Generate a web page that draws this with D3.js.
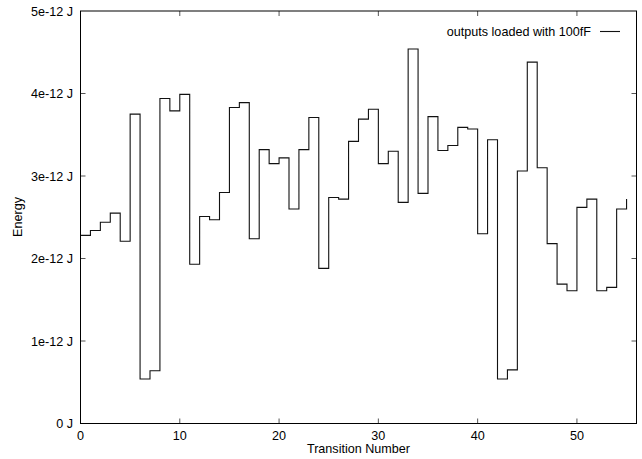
<!DOCTYPE html>
<html>
<head>
<meta charset="utf-8">
<script src="https://cdn.jsdelivr.net/npm/d3@7/dist/d3.min.js"></script>
<style>
  html, body { margin: 0; padding: 0; background: #fff; }
  svg text { font-family: "Liberation Sans", Arial, Helvetica, sans-serif; font-size: 12.6px; fill: #000; }
</style>
</head>
<body>
<svg id="chart" width="642" height="459"></svg>
<script>
// Energy per transition (in units of 1e-12 J), transitions 0..55
const transitions = d3.range(0, 56);
const energy = [
  2.28, 2.34, 2.44, 2.55, 2.21, 3.75, 0.54, 0.64, 3.94, 3.79,
  3.99, 1.93, 2.51, 2.47, 2.80, 3.83, 3.89, 2.24, 3.32, 3.15,
  3.22, 2.60, 3.32, 3.71, 1.88, 2.74, 2.72, 3.42, 3.69, 3.81,
  3.15, 3.30, 2.68, 4.54, 2.79, 3.72, 3.31, 3.37, 3.59, 3.57,
  2.30, 3.44, 0.54, 0.65, 3.06, 4.38, 3.10, 2.18, 1.69, 1.61,
  2.62, 2.72, 1.61, 1.65, 2.60, 2.72
];
const xTicks = [0, 10, 20, 30, 40, 50];
const yTicks = [0, 1, 2, 3, 4, 5];
const yTickLabels = ["0 J", "1e-12 J", "2e-12 J", "3e-12 J", "4e-12 J", "5e-12 J"];
const seriesLabel = "outputs loaded with 100fF";

const svg = d3.select("#chart");
const plotL = 80.5, plotR = 636.5, plotT = 11, plotB = 423.5;

const x = d3.scaleLinear().domain([0, 56]).range([plotL, plotR]);
const y = d3.scaleLinear().domain([0, 5]).range([plotB, plotT]);

const tickColor = "#555";

// tick marks on all four sides (mirrored)
const g = svg.append("g");
xTicks.forEach(t => {
  if (t === 0) return;
  g.append("line").attr("x1", x(t)).attr("x2", x(t)).attr("y1", plotB).attr("y2", plotB - 5)
    .attr("stroke", tickColor).attr("stroke-width", 1);
  g.append("line").attr("x1", x(t)).attr("x2", x(t)).attr("y1", plotT).attr("y2", plotT + 5)
    .attr("stroke", tickColor).attr("stroke-width", 1);
});
yTicks.forEach(t => {
  if (t === 0 || t === 5) return;
  g.append("line").attr("x1", plotL).attr("x2", plotL + 5).attr("y1", y(t)).attr("y2", y(t))
    .attr("stroke", tickColor).attr("stroke-width", 1);
  g.append("line").attr("x1", plotR).attr("x2", plotR - 5).attr("y1", y(t)).attr("y2", y(t))
    .attr("stroke", tickColor).attr("stroke-width", 1);
});

// tick labels
xTicks.forEach(t => {
  svg.append("text").attr("x", x(t)).attr("y", plotB + 16.5).attr("text-anchor", "middle").text(t);
});
yTicks.forEach((t, i) => {
  svg.append("text").attr("x", 73).attr("y", y(t) + 4.5).attr("text-anchor", "end").text(yTickLabels[i]);
});

// axis titles
svg.append("text").attr("x", 358.5).attr("y", 453).attr("text-anchor", "middle").text("Transition Number");
svg.append("text").attr("transform", "translate(21.5,217) rotate(-90)").attr("text-anchor", "middle").text("Energy");

// step line: horizontal first, then vertical
const line = d3.line()
  .x((d, i) => x(transitions[i]))
  .y(d => y(d))
  .curve(d3.curveStepAfter);

svg.append("path")
  .datum(energy)
  .attr("fill", "none")
  .attr("stroke", "#111")
  .attr("stroke-width", 1.1)
  .attr("d", line);

// frame
svg.append("rect").attr("x", plotL).attr("y", plotT).attr("width", plotR - plotL).attr("height", plotB - plotT)
  .attr("fill", "none").attr("stroke", "#000").attr("stroke-width", 1);

// legend
svg.append("text").attr("x", 591).attr("y", 35.5).attr("text-anchor", "end").text(seriesLabel);
svg.append("line").attr("x1", 600).attr("x2", 620).attr("y1", 31.5).attr("y2", 31.5)
  .attr("stroke", "#111").attr("stroke-width", 1.1);
</script>
</body>
</html>
